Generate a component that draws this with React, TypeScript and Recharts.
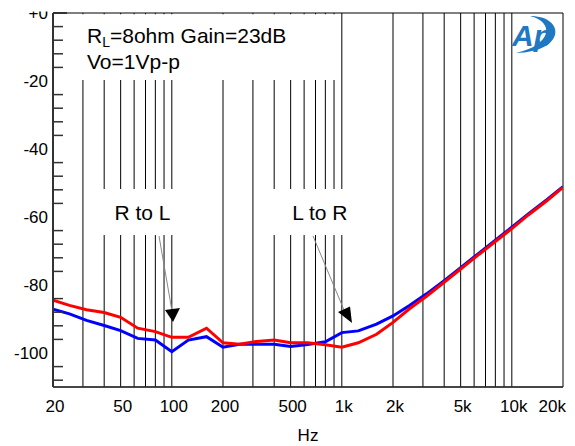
import React from 'react';
import { LineChart, Line, XAxis, YAxis, CartesianGrid, ReferenceArea } from 'recharts';

const FONT = '"Liberation Sans", Arial, sans-serif';

// crosstalk vs frequency (dB)
const freqs = [20, 25, 31.5, 40, 50, 63, 80, 100, 125, 160, 200, 250, 315, 400, 500, 630, 800, 1000, 1250, 1600, 2000, 2500, 3150, 4000, 5000, 6300, 8000, 10000, 12500, 16000, 20000];
const blueDb = [-87.1, -88.5, -90.4, -91.9, -93.4, -95.7, -96.2, -99.6, -96.2, -95.2, -98.3, -97.4, -97.4, -97.4, -98.1, -97.5, -96.7, -94.0, -93.5, -91.5, -89.1, -86.0, -82.6, -78.7, -74.9, -70.9, -66.8, -63.0, -59.1, -55.0, -51.1];
const redDb = [-84.5, -86.0, -87.3, -88.1, -89.5, -92.7, -93.7, -95.4, -95.4, -92.7, -97.0, -97.4, -96.6, -96.2, -97.0, -97.0, -97.6, -98.3, -97.0, -94.5, -91.0, -87.0, -83.3, -79.2, -75.3, -71.3, -67.2, -63.4, -59.4, -55.3, -51.3];

const gridFreqs = [20, 30, 40, 50, 60, 70, 80, 90, 100, 200, 300, 400, 500, 600, 700, 800, 900, 1000, 2000, 3000, 4000, 5000, 6000, 7000, 8000, 9000, 10000, 20000];
const xLabels: Record<number, string> = { 20: '20', 50: '50', 100: '100', 200: '200', 500: '500', 1000: '1k', 2000: '2k', 5000: '5k', 10000: '10k', 20000: '20k' };
const yMajor = [0, -20, -40, -60, -80, -100];
const yTicks = [0, -4, -8, -12, -16, -20, -24, -28, -32, -36, -40, -44, -48, -52, -56, -60, -64, -68, -72, -76, -80, -84, -88, -92, -96, -100, -104, -108];

const data = freqs.map((f, i) => ({ f, blue: blueDb[i], red: redDb[i] }));

function XTick(props: any) {
  const { x, y, payload } = props;
  const label = xLabels[payload.value];
  if (!label) return null;
  const last = payload.value === 20000;
  return (
    <text x={x + (last ? 3 : 2)} y={y + 25} textAnchor={last ? 'end' : 'middle'} fontSize={17} fill="#000" fontFamily={FONT}>
      {label}
    </text>
  );
}

// labels for the 20 dB steps, short inward ticks for every 4 dB
function YTick(props: any) {
  const { x, y, payload } = props;
  const v = payload.value;
  const axisX = x + 5;
  if (yMajor.includes(v)) {
    return (
      <g>
        {v === 0 && <line x1={axisX} y1={y} x2={axisX + 14} y2={y} stroke="#333" strokeWidth={2} />}
        <text x={x} y={y + 6} textAnchor="end" fontSize={17} fill="#000" fontFamily={FONT}>
          {v === 0 ? '+0' : String(v)}
        </text>
      </g>
    );
  }
  return <line x1={axisX} y1={y} x2={axisX + 10} y2={y} stroke="#333" strokeWidth={1.5} />;
}

const boxLabel = (text: string) => ({ value: text, position: 'center' as const, fontSize: 21, fill: '#000', fontFamily: FONT });

export default function App() {
  return (
    <div style={{ position: 'absolute', left: 0, top: 0, width: 575, height: 446, background: '#fff' }}>
      <LineChart width={575} height={446} data={data} margin={{ top: 13, right: 12, bottom: 0, left: 0 }}>
        <CartesianGrid stroke="#000" strokeWidth={1} yAxisId="grid" />
        <XAxis
          dataKey="f"
          type="number"
          scale="log"
          domain={[20, 20000]}
          allowDataOverflow
          ticks={gridFreqs}
          interval={0}
          tickLine={false}
          tickSize={0}
          tickMargin={0}
          tick={<XTick />}
          height={59}
          axisLine={{ stroke: '#333', strokeWidth: 1.5 }}
          label={{ value: 'Hz', position: 'insideBottom', offset: 5, fontSize: 17, fill: '#000', fontFamily: FONT }}
        />
        <YAxis
          type="number"
          domain={[-110, 0]}
          ticks={yTicks}
          interval={0}
          width={53}
          tickLine={false}
          tickSize={3}
          tickMargin={2}
          tick={<YTick />}
          axisLine={{ stroke: '#333', strokeWidth: 2 }}
        />
        <YAxis yAxisId="grid" type="number" domain={[-110, 0]} ticks={yMajor} interval={0} hide />
        <ReferenceArea x1={20.6} x2={928} y1={-19.7} y2={-0.4} fill="#fff" fillOpacity={1} stroke="none" ifOverflow="visible" />
        <ReferenceArea x1={33.9} x2={133} y1={-65.3} y2={-51.8} fill="#fff" fillOpacity={1} stroke="none" label={boxLabel('R to L')} />
        <ReferenceArea x1={377} x2={1462} y1={-65.3} y2={-51.8} fill="#fff" fillOpacity={1} stroke="none" label={boxLabel('L to R')} />
        <Line dataKey="blue" stroke="#0000ff" strokeWidth={3} dot={false} isAnimationActive={false} />
        <Line dataKey="red" stroke="#ff0000" strokeWidth={3} dot={false} isAnimationActive={false} />
      </LineChart>
      <svg width={575} height={446} style={{ position: 'absolute', left: 0, top: 0, pointerEvents: 'none' }}>
        <rect x={0} y={0} width={50} height={11.5} fill="#fff" />
        <text x={87} y={43} fontSize={21} fill="#000" fontFamily={FONT}>
          R<tspan fontSize={14} dy={4}>L</tspan>
          <tspan dy={-4}>=8ohm Gain=23dB</tspan>
        </text>
        <text x={87} y={69} fontSize={21} fill="#000" fontFamily={FONT}>Vo=1Vp-p</text>
        <line x1={159} y1={236} x2={172} y2={311} stroke="#888" strokeWidth={1} />
        <polygon points="165,310 180,308 173,322" fill="#000" />
        <line x1={313} y1={236} x2={344} y2={310} stroke="#888" strokeWidth={1} />
        <polygon points="338,312 350,306.5 352,323" fill="#000" />
        <path d="M530,16 C566,16 566,52 516,53 C552,45 555,22 530,16 Z" fill="#1f78c1" />
        <text x={512} y={46} fontSize={30} fontWeight="bold" fontStyle="italic" fill="#1f78c1" fontFamily={FONT}>Ap</text>
      </svg>
    </div>
  );
}
